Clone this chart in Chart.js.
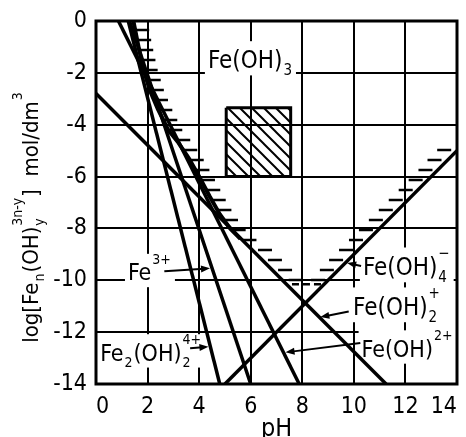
<!DOCTYPE html>
<html>
<head>
<meta charset="utf-8">
<script src="https://cdn.jsdelivr.net/npm/chart.js@4/dist/chart.umd.min.js"></script>
<style>
  html, body { margin: 0; padding: 0; background: #fff; }
  #wrap { width: 466px; height: 437px; }
</style>
</head>
<body>
<div id="wrap"><canvas id="chart"></canvas></div>
<script>
// log concentration of each hydrolysis species vs pH (end points of each straight line)
const fe3PH = [1.3, 6.0];          // Fe3+
const fe3Log = [0, -14];
const fe2oh2PH = [1.25, 4.8];      // Fe2(OH)2 4+
const fe2oh2Log = [0, -14];
const feohPH = [0.87, 7.88];       // Fe(OH) 2+
const feohLog = [0, -14];
const feoh2PH = [0, 11.25];        // Fe(OH)2 +
const feoh2Log = [-2.8, -14];
const feoh4PH = [5.0, 14];         // Fe(OH)4 -
const feoh4Log = [-14, -5.0];

// solubility limit of Fe(OH)3 (total dissolved iron)
const limitPH  = [1.45, 1.65, 1.85, 2.1, 2.4, 2.8, 3.2, 3.6, 4.0, 4.4, 4.8, 5.2, 5.6, 6.2, 6.6, 7.0, 7.4, 7.6, 8.75, 9.0, 9.5, 10.0, 10.5, 11.0, 11.5, 12.0, 12.5, 13.0, 13.5, 14.0];
const limitLog = [0, -1.0, -1.9, -2.7, -3.4, -4.2, -4.7, -5.3, -6.0, -6.75, -7.45, -8.0, -8.4, -8.75, -9.15, -9.55, -9.9, -10.15, -10.15, -9.85, -9.3, -8.8, -8.3, -7.8, -7.3, -6.8, -6.3, -5.8, -5.25, -4.75];

// hatched field
const fieldPH = [5.05, 7.55];
const fieldLog = [-3.35, -6.0];

const xTickValues = [0, 2, 4, 6, 8, 10, 12, 14];
const yTickValues = [0, -2, -4, -6, -8, -10, -12, -14];

const FONT = '"DejaVu Sans Condensed", "Liberation Sans Narrow", "DejaVu Sans", sans-serif';
const SOLID_UNTIL = 5.6;   // limit curve drawn as a line up to this pH
const LIMIT = 6;           // dataset index of the limit curve

// species labels: text start (pH, log) and leader arrow tail/tip
const notes = [
  { parts: [{ t: 'Fe(OH)' }, { sub: '3' }], at: [4.34, -1.82], size: 24, boxTop: 27 },
  { parts: [{ t: 'Fe' }, { sup: '3+' }], at: [1.24, -10.0], size: 23, tail: [2.65, -9.65], tip: [4.42, -9.54] },
  { parts: [{ t: 'Fe' }, { sub: '2' }, { t: '(OH)' }, { sub: '2', sup: '4+' }], at: [0.16, -13.1], size: 23, tail: [3.65, -12.62], tip: [4.36, -12.56] },
  { parts: [{ t: 'Fe(OH)' }, { sub: '4', sup: '\u2212' }], at: [10.35, -9.8], size: 24, tail: [10.28, -9.45], tip: [9.74, -9.33] },
  { parts: [{ t: 'Fe(OH)' }, { sub: '2', sup: '+' }], at: [9.97, -11.34], size: 24, tail: [9.8, -11.2], tip: [8.7, -11.42] },
  { parts: [{ t: 'Fe(OH)' }, { sup: '2+' }], at: [10.3, -12.95], size: 23, tail: [10.25, -12.42], tip: [7.35, -12.78] }
];

function pts(xs, ys) {
  return xs.map((x, i) => ({ x: x, y: ys[i] }));
}

// text with sub/superscripts, returns width
function richText(ctx, parts, x, y, size, draw) {
  let cx = x;
  const big = size + 'px ' + FONT;
  const small = Math.round(size * 0.62) + 'px ' + FONT;
  parts.forEach(p => {
    if (p.t) {
      ctx.font = big;
      if (draw) ctx.fillText(p.t, cx, y);
      cx += ctx.measureText(p.t).width;
    } else {
      ctx.font = small;
      let w = 0;
      if (p.sub) {
        if (draw) ctx.fillText(p.sub, cx + 1, y + size * 0.28);
        w = Math.max(w, ctx.measureText(p.sub).width);
      }
      if (p.sup) {
        if (draw) ctx.fillText(p.sup, cx + 1, y - size * 0.72);
        w = Math.max(w, ctx.measureText(p.sup).width);
      }
      cx += w + 2;
    }
  });
  return cx - x;
}

function hatchPattern() {
  const c = document.createElement('canvas');
  c.width = 12; c.height = 12;
  const g = c.getContext('2d');
  g.strokeStyle = '#000';
  g.lineWidth = 2;
  g.beginPath();
  g.moveTo(-2, -2); g.lineTo(14, 14);
  g.moveTo(-2, 10); g.lineTo(2, 14);
  g.moveTo(10, -2); g.lineTo(14, 2);
  g.stroke();
  return c.getContext('2d').createPattern(c, 'repeat');
}

function segKind(c) {
  if (c.p1.parsed.x <= SOLID_UNTIL) return 'solid';
  if (c.p0.parsed.y === c.p1.parsed.y) return 'dash';
  return 'hidden';
}

const decor = {
  id: 'decor',
  beforeDatasetsDraw(chart) {
    const ctx = chart.ctx, xs = chart.scales.x, ys = chart.scales.y;
    ctx.save();
    ctx.textBaseline = 'alphabetic';
    notes.forEach(n => {
      const x = xs.getPixelForValue(n.at[0]);
      const y = ys.getPixelForValue(n.at[1]);
      const w = richText(ctx, n.parts, x, y, n.size, false);
      const top = y - (n.boxTop || n.size * 1.15);
      ctx.fillStyle = '#fff';
      ctx.fillRect(x - 3, top, w + 6, y + n.size * 0.3 - top);
      ctx.fillStyle = '#000';
      richText(ctx, n.parts, x, y, n.size, true);
    });
    ctx.restore();
  },
  afterDatasetsDraw(chart) {
    const ctx = chart.ctx, xs = chart.scales.x, ys = chart.scales.y;
    const area = chart.chartArea;
    ctx.save();
    ctx.strokeStyle = '#000';
    ctx.fillStyle = '#000';

    // hatch ticks on the precipitate side of the limit curve
    const p = chart.getDatasetMeta(LIMIT).data;
    ctx.lineWidth = 2.5;
    ctx.beginPath();
    for (let i = 0; i < p.length - 1; i++) {
      const a = p[i], b = p[i + 1];
      const dy = b.y - a.y;
      if (Math.abs(dy) < 1) continue;
      const dir = dy > 0 ? 1 : -1;
      const y0 = Math.min(a.y, b.y), y1 = Math.max(a.y, b.y);
      const start = area.top + 9;
      let y = start + Math.ceil((y0 - start) / 10) * 10;
      for (; y < y1; y += 10) {
        if (y < y0 || y > area.bottom - 4) continue;
        const x = a.x + (b.x - a.x) * (y - a.y) / dy;
        ctx.moveTo(x, y);
        ctx.lineTo(x + dir * 14, y);
      }
    }
    ctx.stroke();

    // leader arrows
    ctx.lineWidth = 2;
    notes.filter(n => n.tip).forEach(n => {
      const tx = xs.getPixelForValue(n.tail[0]), ty = ys.getPixelForValue(n.tail[1]);
      const hx = xs.getPixelForValue(n.tip[0]), hy = ys.getPixelForValue(n.tip[1]);
      const ang = Math.atan2(hy - ty, hx - tx);
      ctx.beginPath();
      ctx.moveTo(tx, ty);
      ctx.lineTo(hx - 6 * Math.cos(ang), hy - 6 * Math.sin(ang));
      ctx.stroke();
      ctx.beginPath();
      ctx.moveTo(hx, hy);
      ctx.lineTo(hx - 9 * Math.cos(ang) + 3.5 * Math.sin(ang), hy - 9 * Math.sin(ang) - 3.5 * Math.cos(ang));
      ctx.lineTo(hx - 9 * Math.cos(ang) - 3.5 * Math.sin(ang), hy - 9 * Math.sin(ang) + 3.5 * Math.cos(ang));
      ctx.closePath();
      ctx.fill();
    });

    // plot frame
    ctx.lineWidth = 3;
    ctx.strokeRect(area.left, area.top, area.right - area.left, area.bottom - area.top);
    ctx.restore();
  },
  afterDraw(chart) {
    const ctx = chart.ctx;
    const area = chart.chartArea;
    ctx.save();
    ctx.fillStyle = '#000';
    ctx.textBaseline = 'alphabetic';

    // x axis title
    ctx.font = '25px ' + FONT;
    ctx.textAlign = 'center';
    ctx.fillText('pH', (area.left + area.right) / 2, 436);

    // y axis title, rotated
    ctx.textAlign = 'left';
    const title = [
      { t: 'log[Fe' }, { sub: 'n' }, { t: '(OH)' }, { sub: 'y', sup: '3n-y' },
      { t: ']  mol/dm' }, { sup: '3' }
    ];
    ctx.translate(38, 217);
    ctx.rotate(-Math.PI / 2);
    const w = richText(ctx, title, 0, 0, 22, false);
    richText(ctx, title, -w / 2, 0, 22, true);
    ctx.restore();
  }
};

const species = { borderColor: '#000', borderWidth: 3.5, pointRadius: 0, showLine: true, fill: false };

new Chart(document.getElementById('chart'), {
  type: 'scatter',
  data: {
    datasets: [
      {
        data: pts([fieldPH[0], fieldPH[1], fieldPH[1], fieldPH[0], fieldPH[0]],
                  [fieldLog[0], fieldLog[0], fieldLog[1], fieldLog[1], fieldLog[0]]),
        showLine: true, fill: 'shape', backgroundColor: hatchPattern(),
        borderColor: '#000', borderWidth: 3, pointRadius: 0
      },
      Object.assign({ data: pts(fe3PH, fe3Log) }, species),
      Object.assign({ data: pts(fe2oh2PH, fe2oh2Log) }, species),
      Object.assign({ data: pts(feohPH, feohLog) }, species),
      Object.assign({ data: pts(feoh2PH, feoh2Log) }, species),
      Object.assign({ data: pts(feoh4PH, feoh4Log) }, species),
      {
        data: pts(limitPH, limitLog),
        showLine: true, fill: false, pointRadius: 0,
        borderColor: '#000', borderWidth: 4,
        segment: {
          borderColor: c => segKind(c) === 'hidden' ? 'rgba(0,0,0,0)' : '#000',
          borderDash: c => segKind(c) === 'dash' ? [7, 4] : undefined,
          borderWidth: c => segKind(c) === 'dash' ? 2.5 : 4
        }
      }
    ]
  },
  options: {
    responsive: true,
    maintainAspectRatio: false,
    animation: false,
    layout: { padding: { top: 21, right: 9, left: 0, bottom: 0 } },
    plugins: { legend: { display: false }, tooltip: { enabled: false } },
    scales: {
      x: {
        type: 'linear', min: 0, max: 14,
        afterBuildTicks: s => { s.ticks = xTickValues.map(v => ({ value: v })); },
        afterFit: s => { s.height = 53; s.paddingLeft = 0; s.paddingRight = 0; },
        grid: { color: '#000', lineWidth: 2, drawTicks: false },
        border: { display: false },
        ticks: { color: '#000', padding: 9, maxRotation: 0, align: 'inner', font: { size: 23, family: FONT } }
      },
      y: {
        type: 'linear', min: -14, max: 0,
        afterBuildTicks: s => { s.ticks = yTickValues.map(v => ({ value: v })); },
        afterFit: s => { s.width = 96; s.paddingTop = 0; s.paddingBottom = 0; },
        grid: { color: '#000', lineWidth: 2, drawTicks: false },
        border: { display: false },
        ticks: { color: '#000', padding: 9, font: { size: 23, family: FONT } }
      }
    }
  },
  plugins: [decor]
});
</script>
</body>
</html>
